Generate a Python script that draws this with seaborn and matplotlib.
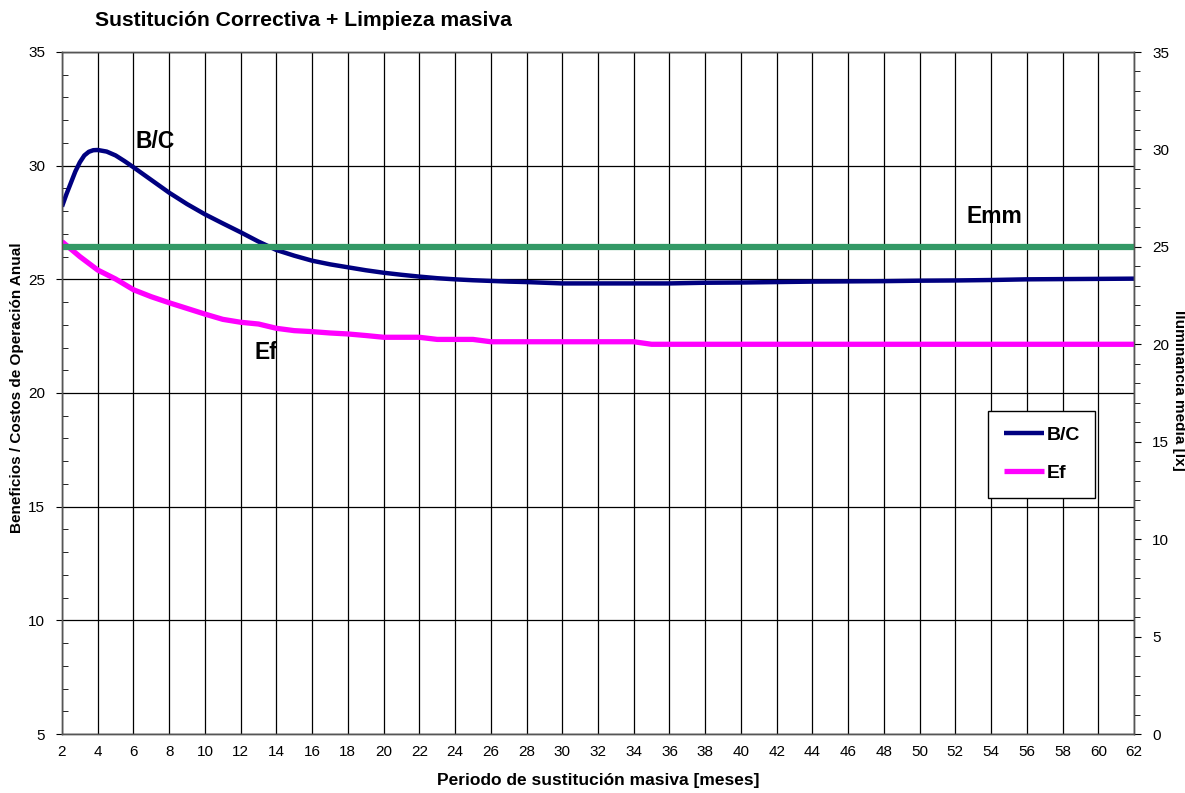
import numpy as np
import pandas as pd
import matplotlib
matplotlib.use("Agg")
import matplotlib.pyplot as plt
from matplotlib.ticker import MultipleLocator
import seaborn as sns

# ---------------- data ----------------
title = "Sustitución Correctiva + Limpieza masiva"
xlabel = "Periodo de sustitución masiva [meses]"
ylabel_left = "Beneficios / Costos de Operación Anual"
ylabel_right = "Iluminancia media [lx]"

bc_months = [2, 2.25, 2.5, 2.75, 3, 3.25, 3.5, 3.75, 4, 4.5, 5, 5.5, 6, 7, 8, 9, 10, 11,
             12, 13, 14, 15, 16, 17, 18, 19, 20, 21, 22, 23, 24, 25, 26, 27, 28, 29, 30,
             32, 34, 36, 38, 40, 42, 44, 46, 48, 50, 52, 54, 56, 58, 60, 62]
bc_values = [28.2, 28.75, 29.25, 29.75, 30.15, 30.45, 30.61, 30.68, 30.69, 30.62, 30.45,
             30.2, 29.93, 29.37, 28.81, 28.31, 27.86, 27.46, 27.07, 26.66, 26.29, 26.04,
             25.82, 25.66, 25.53, 25.40, 25.29, 25.20, 25.12, 25.05, 25.0, 24.96, 24.93,
             24.90, 24.88, 24.85, 24.82, 24.82, 24.82, 24.82, 24.85, 24.86, 24.88, 24.90,
             24.91, 24.92, 24.94, 24.95, 24.97, 25.0, 25.01, 25.02, 25.03]

ef_months = [2, 3, 4, 5, 6, 7, 8, 9, 10, 11, 12, 13, 14, 15, 16, 17, 18, 19, 20, 21, 22,
             23, 24, 25, 26, 28, 30, 32, 34, 35, 40, 50, 62]
ef_values = [25.27, 24.5, 23.81, 23.35, 22.8, 22.44, 22.13, 21.84, 21.55, 21.28, 21.13,
             21.04, 20.82, 20.70, 20.65, 20.58, 20.53, 20.45, 20.36, 20.36, 20.36, 20.25,
             20.25, 20.25, 20.13, 20.13, 20.13, 20.13, 20.13, 20.0, 20.0, 20.0, 20.0]

emm_months = [2, 62]
emm_values = [25, 25]

x_ticks = list(range(2, 63, 2))
left_ticks = [5, 10, 15, 20, 25, 30, 35]
right_ticks = [0, 5, 10, 15, 20, 25, 30, 35]

bc_df = pd.DataFrame({"x": bc_months, "y": bc_values})
ef_df = pd.DataFrame({"x": ef_months, "y": ef_values})
emm_df = pd.DataFrame({"x": emm_months, "y": emm_values})

# ---------------- style ----------------
sns.set_style("white")
plt.rcParams["font.family"] = ["Liberation Sans", "DejaVu Sans"]
plt.rcParams["text.color"] = "black"
plt.rcParams["axes.labelcolor"] = "black"
plt.rcParams["xtick.color"] = "black"
plt.rcParams["ytick.color"] = "black"

W, H = 1185, 793
fig = plt.figure(figsize=(W / 100, H / 100), dpi=100)
L, R, T, B = 62, 1134, 52, 734
ax = fig.add_axes([L / W, 1 - B / H, (R - L) / W, (B - T) / H])
ax2 = ax.twinx()

NAVY = "#000080"
MAG = "#FF00FF"
GREEN = "#339966"

sns.lineplot(data=bc_df, x="x", y="y", ax=ax, color=NAVY, lw=3.2, label="B/C",
             legend=False, solid_capstyle="butt")
sns.lineplot(data=ef_df, x="x", y="y", ax=ax2, color=MAG, lw=3.8, label="Ef",
             legend=False, solid_capstyle="butt")
sns.lineplot(data=emm_df, x="x", y="y", ax=ax2, color=GREEN, lw=4.5, legend=False,
             solid_capstyle="butt")

ax.set_xlim(2, 62)
ax.set_ylim(5, 35)
ax2.set_ylim(0, 35)
ax.set_xticks(x_ticks)
ax.set_yticks(left_ticks)
ax2.set_yticks(right_ticks)
ax.yaxis.set_minor_locator(MultipleLocator(1))
ax2.yaxis.set_minor_locator(MultipleLocator(1))

ax.grid(True, which="major", color="black", lw=0.9)
ax.set_axisbelow(True)

for a in (ax, ax2):
    for s in a.spines.values():
        s.set_color("#555555")
        s.set_linewidth(1.0)

ax.tick_params(axis="x", which="major", direction="in", length=0, labelsize=11, pad=8,
               colors="black")
ax.tick_params(axis="y", which="major", direction="out", length=4, labelsize=11, pad=8,
               colors="black")
ax.tick_params(axis="y", which="minor", direction="in", length=4, left=True, color="black")
ax2.tick_params(axis="y", which="major", direction="out", length=5, labelsize=11, pad=8,
                colors="black")
ax2.tick_params(axis="y", which="minor", direction="out", length=4, right=True, color="black")

ax.set_xlabel("")
ax.set_ylabel("")
ax2.set_ylabel("")

fig.text(598 / W, 1 - 780 / H, xlabel, ha="center", va="center", fontsize=12.5,
         fontweight="bold", color="black")
fig.text(17 / W, 1 - 388 / H, ylabel_left, ha="center", va="center", rotation=90,
         fontsize=11, fontweight="bold", color="black")
fig.text(1179 / W, 1 - 390 / H, ylabel_right, ha="center", va="center", rotation=270,
         fontsize=11, fontweight="bold", color="black")
fig.text(95 / W, 1 - 20 / H, title, ha="left", va="center", fontsize=15.2,
         fontweight="bold", color="black")

# series labels
ax.text(7.2, 31.05, "B/C", ha="center", va="center", fontsize=16.5, fontweight="bold",
        color="black")
ax.text(13.4, 21.8, "Ef", ha="center", va="center", fontsize=16.5, fontweight="bold",
        color="black")
ax.text(54.2, 27.78, "Emm", ha="center", va="center", fontsize=16.5, fontweight="bold",
        color="black")

h1, l1 = ax.get_legend_handles_labels()
h2, l2 = ax2.get_legend_handles_labels()
handles = h1 + [h for h, l in zip(h2, l2) if l == "Ef"]
labels = l1 + [l for l in l2 if l == "Ef"]
leg = ax2.legend(handles, labels, loc="upper left",
                 bbox_to_anchor=(988 / W, 1 - 411 / H), bbox_transform=fig.transFigure,
                 frameon=True, fancybox=False, edgecolor="black", framealpha=1,
                 prop={"weight": "bold", "size": 14}, handlelength=2.1,
                 handletextpad=0.1, labelspacing=1.05, borderpad=0.8,
                 borderaxespad=0)
leg.get_frame().set_linewidth(1.0)
for t in leg.get_texts():
    t.set_color("black")

fig.savefig("out.png", dpi=100)
